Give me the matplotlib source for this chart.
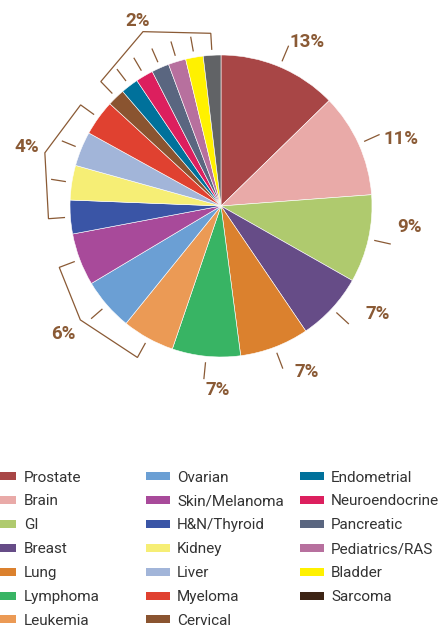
import numpy as np
import matplotlib
matplotlib.use("Agg")
import matplotlib.pyplot as plt
from matplotlib.patches import Rectangle

# Share of cases by cancer site (percent), clockwise from 12 o'clock
sites = ["Prostate", "Brain", "GI", "Breast", "Lung", "Lymphoma", "Leukemia",
         "Ovarian", "Skin/Melanoma", "H&N/Thyroid", "Kidney", "Liver", "Myeloma",
         "Cervical", "Endometrial", "Neuroendocrine", "Pancreatic",
         "Pediatrics/RAS", "Bladder", "Sarcoma"]
shares = [12.7, 11.1, 9.4, 7.3, 7.4, 7.3, 5.6,
          5.6, 5.6, 3.6, 3.7, 3.7, 3.8,
          1.88, 1.88, 1.88, 1.88, 1.88, 1.88, 1.88]

pie_colors = ["#a84646", "#e9aaa8", "#afca6e", "#664c87", "#db812e", "#38b464",
              "#eb9a55", "#6b9fd4", "#a84a9a", "#3a55a6", "#f6ee75", "#a2b5d9",
              "#e04130", "#8a5430", "#00719b", "#dc1f5e", "#5a6680", "#b7709e",
              "#fff100", "#616366"]
legend_colors = pie_colors[:-1] + ["#3d2415"]

# slices labelled one by one, and groups of slices sharing a bracket label
single_labels = [0, 1, 2, 3, 4, 5]
groups = [[6, 7, 8], [9, 10, 11, 12], [13, 14, 15, 16, 17, 18, 19]]

BROWN = "#8a5a35"
W, H = 445, 629
CX, CY, R = 221, H - 206, 151

fig = plt.figure(figsize=(W / 100, H / 100), dpi=100)
ax = fig.add_axes([0, 0, 1, 1])
ax.pie(shares, colors=pie_colors, startangle=90, counterclock=False,
       center=(CX, CY), radius=R,
       wedgeprops=dict(edgecolor="white", linewidth=0.4))
ax.set_xlim(0, W)
ax.set_ylim(0, H)
ax.set_aspect("auto")
ax.axis("off")

total = float(sum(shares))
bounds = np.concatenate([[0], np.cumsum(shares)]) / total * 360.0
mids = (bounds[:-1] + bounds[1:]) / 2


def pol(ang, r):
    a = np.radians(ang)
    return CX + r * np.sin(a), CY + r * np.cos(a)


label_font = dict(family=["Liberation Sans Narrow", "Roboto", "DejaVu Sans"],
                  fontweight="bold", fontsize=13.5, color=BROWN)
line_kw = dict(color=BROWN, lw=0.9, solid_capstyle="butt")

# leader lines and labels (anchored at their left edge) for the larger slices
nudges = [-0.4, 1.8, -5.7, -6.1, -3.1, -0.8]
label_r = [178, 176, 177.5, 180.5, 181.5, 184.5]
for k, i in enumerate(single_labels):
    x0, y0 = pol(mids[i], 157)
    x1, y1 = pol(mids[i], 174)
    ax.plot([x0, x1], [y0, y1], **line_kw)
    tx, ty = pol(mids[i] + nudges[k], label_r[k])
    ax.text(tx, ty, f"{round(shares[i] / total * 100)}%",
            ha="left", va="center", **label_font)

# brackets for the groups of smaller slices
corners = [(231.0, 181), (286.8, 184), (335.9, 191)]
for members, (cang, crad) in zip(groups, corners):
    first, last = members[0], members[-1]
    for i in members[1:-1]:
        x0, y0 = pol(mids[i], 157)
        x1, y1 = pol(mids[i], 172)
        ax.plot([x0, x1], [y0, y1], **line_kw)
    pts = [pol(mids[last], 157), pol(mids[last], 173), pol(cang, crad),
           pol(mids[first], 173), pol(mids[first], 157)]
    xs, ys = zip(*pts)
    ax.plot(xs, ys, color=BROWN, lw=0.9, solid_joinstyle="miter")
    share = round(np.mean([shares[i] for i in members]) / total * 100)
    tx, ty = pol(cang, 203)
    ax.text(tx, ty, f"{share}%", ha="center", va="center", **label_font)

# legend in three columns
legend_order = ["Prostate", "Brain", "GI", "Breast", "Lung", "Lymphoma",
                "Leukemia", "Ovarian", "Skin/Melanoma", "H&N/Thyroid", "Kidney",
                "Liver", "Myeloma", "Cervical", "Endometrial", "Neuroendocrine",
                "Pancreatic", "Pediatrics/RAS", "Bladder", "Sarcoma"]
patch_x = [-8, 146, 300]
text_x = [24, 177, 331]
row_y0, row_step = H - 476, 23.9
for n, name in enumerate(legend_order):
    col, row = divmod(n, 7)
    y = row_y0 - row * row_step
    idx = sites.index(name)
    ax.add_patch(Rectangle((patch_x[col], y - 4), 24, 8,
                           facecolor=legend_colors[idx], edgecolor="none"))
    ax.text(text_x[col], y, name, ha="left", va="center_baseline",
            family=["Roboto", "DejaVu Sans"], fontsize=11, color="#333333")

fig.savefig("out.png", dpi=100)
